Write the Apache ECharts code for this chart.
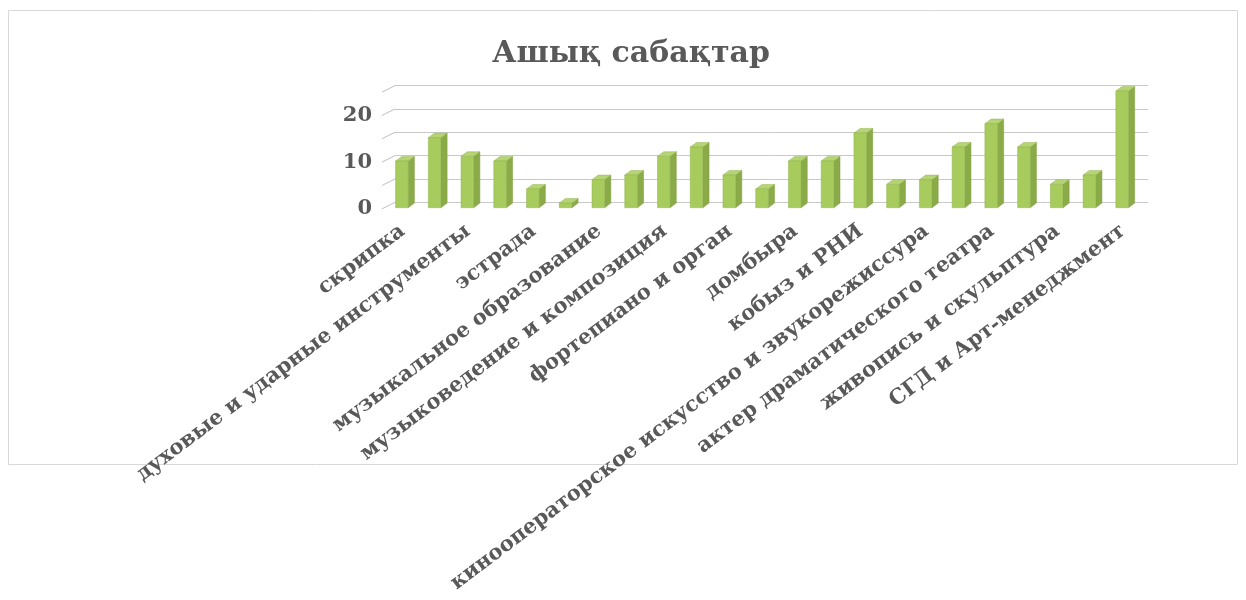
<!DOCTYPE html>
<html>
<head>
<meta charset="utf-8">
<script src="https://cdn.jsdelivr.net/npm/echarts@6/dist/echarts.min.js"></script>
<style>
html,body{margin:0;padding:0;background:#fff;}
#chart{width:1246px;height:600px;}
</style>
</head>
<body>
<div id="chart"></div>
<script>
const titleText = 'Ашық сабақтар';
const categories = [
  'скрипка', '', 'духовые и ударные инструменты', '', 'эстрада', '',
  'музыкальное образование', '', 'музыковедение и композиция', '',
  'фортепиано и орган', '', 'домбыра', '', 'кобыз и РНИ', '',
  'кинооператорское искусство и звукорежиссура', '', 'актер драматического театра', '',
  'живопись и скульптура', '', 'СГД и Арт-менеджмент'
];
const values = [10, 15, 11, 10, 4, 1, 6, 7, 11, 13, 7, 4, 10, 10, 16, 5, 6, 13, 18, 13, 5, 7, 25];
const yTicks = [0, 5, 10, 15, 20, 25];

const chart = echarts.init(document.getElementById('chart'));
const FONT = 'DejaVu Serif';

function renderBar(params, api) {
  const idx = api.value(0);
  const val = api.value(1);
  const p0 = api.coord([idx, 0]);
  const p1 = api.coord([idx, val]);
  const bw = api.size([1, 0])[0];
  const fw = bw * 0.385;
  const dx = bw * 0.19, dy = 4.6, dyFront = 5.4;
  const left = p0[0] - bw * 0.29 - fw / 2;
  const right = left + fw;
  const yb = p0[1] + dyFront;
  const yt = p1[1] + dyFront;
  return {
    type: 'group',
    children: [
      { type: 'polygon', shape: { points: [[right, yt], [right + dx, yt - dy], [right + dx, yb - dy], [right, yb]] },
        style: { fill: '#8AAB47', stroke: '#7F9E40', lineWidth: 0.5 } },
      { type: 'polygon', shape: { points: [[left, yt], [left + dx, yt - dy], [right + dx, yt - dy], [right, yt]] },
        style: { fill: '#B5D474', stroke: '#94B451', lineWidth: 0.5 } },
      { type: 'rect', shape: { x: left, y: yt, width: fw, height: yb - yt },
        style: { fill: '#A8CB5E', stroke: '#92B34F', lineWidth: 0.5 } }
    ]
  };
}

function renderWallEdge(params, api) {
  const cs = params.coordSys;
  const p = api.coord([0, api.value(1)]);
  return {
    type: 'line',
    shape: { x1: cs.x - 13, y1: p[1] + 6.5, x2: cs.x, y2: p[1] },
    style: { stroke: '#BFBFBF', lineWidth: 1 }
  };
}

chart.setOption({
  backgroundColor: '#ffffff',
  animation: false,
  title: {
    text: titleText,
    left: 626,
    textAlign: 'center',
    top: 34,
    textStyle: { fontFamily: FONT, fontWeight: 'bold', fontSize: 30, color: '#595959' }
  },
  graphic: [{
    type: 'rect', shape: { x: 8.5, y: 10.5, width: 1229, height: 454 },
    style: { fill: 'none', stroke: '#D9D9D9', lineWidth: 1 }, silent: true, z: -10
  }],
  grid: { left: 395, right: 98, top: 85.6, bottom: 397.7, containLabel: false, outerBoundsMode: 'none' },
  xAxis: {
    type: 'category',
    data: categories,
    axisLine: { show: false },
    axisTick: { show: false },
    axisLabel: {
      interval: 0, rotate: 37, margin: 20,
      fontFamily: FONT, fontWeight: 'bold', fontSize: 21, color: '#595959',
      formatter: v => (v ? '{c|' + v + '}' : ''),
      rich: {
        c: { padding: [0, 11, 0, 0], fontFamily: FONT, fontWeight: 'bold', fontSize: 21, color: '#595959' }
      }
    }
  },
  yAxis: {
    type: 'value',
    min: 0, max: 25, interval: 5,
    axisLine: { show: false },
    axisTick: { show: false },
    splitLine: { lineStyle: { color: '#C9C9C9', width: 1 } },
    axisLabel: {
      margin: 23,
      fontFamily: FONT, fontWeight: 'bold', fontSize: 21, color: '#595959',
      formatter: v => (v % 10 === 0 ? '{v|' + v + '}' : ''),
      rich: {
        v: { padding: [13, 0, 0, 0], fontFamily: FONT, fontWeight: 'bold', fontSize: 21, color: '#595959' }
      }
    }
  },
  series: [
    {
      type: 'custom',
      name: 'wall',
      renderItem: renderWallEdge,
      data: yTicks.map(v => [0, v]),
      silent: true,
      z: 1
    },
    {
      type: 'custom',
      name: titleText,
      renderItem: renderBar,
      encode: { x: 0, y: 1 },
      data: values.map((v, i) => [i, v]),
      z: 3
    }
  ]
});
</script>
</body>
</html>
